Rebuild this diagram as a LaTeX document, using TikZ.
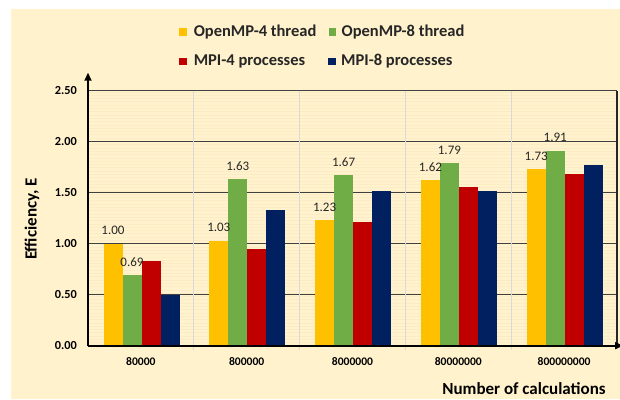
\documentclass[tikz,border=0pt]{standalone}
\usepackage{fontspec}
\setmainfont{Carlito}
\usetikzlibrary{arrows.meta, positioning}

\definecolor{cream}{HTML}{FFF2CC}
\definecolor{stripe}{HTML}{FBECC6}
\definecolor{ompfour}{HTML}{FFC000}
\definecolor{ompeight}{HTML}{70AD47}
\definecolor{mpifour}{HTML}{C00000}
\definecolor{mpieight}{HTML}{002060}

\begin{document}
\begin{tikzpicture}[
    x=1pt, y=-1pt,
    legsq/.style = {rectangle, minimum size=7.5pt, inner sep=0pt},
    legtext/.style = {anchor=west, inner sep=0pt, font=\fontsize{16.5}{20}\selectfont\bfseries, text=black!85},
    ticklabel/.style = {anchor=east, inner sep=0pt, font=\fontsize{12.3}{14}\selectfont\bfseries},
    catlabel/.style = {inner sep=0pt, font=\fontsize{11.6}{13}\selectfont\bfseries},
    vallabel/.style = {anchor=base, inner sep=0pt, font=\fontsize{13}{15}\selectfont, text=black!85},
    axistitle/.style = {inner sep=0pt, font=\fontsize{17}{20}\selectfont\bfseries},
    grid/.style = {draw=black!75, line width=0.9pt},
    sep/.style = {draw=black!15, line width=0.7pt},
    axis/.style = {draw=black, line width=1.7pt, -{Triangle[length=8pt, width=7pt]}}
]
\useasboundingbox (0,0) rectangle (620,399);
\fill[white] (0,0) rectangle (620,399);
\fill[cream] (11,9) rectangle (620,399);

% striped plot area
\foreach \s in {0,...,76}
    \draw[stripe, line width=0.9pt] (89,{92+3.3*\s}) -- (616,{92+3.3*\s});

% gridlines and tick labels
\foreach \v/\t in {0/0.00, 1/0.50, 2/1.00, 3/1.50, 4/2.00, 5/2.50} {
    \pgfmathsetmacro\gy{345.7-51*\v}
    \node[ticklabel] (tick\v) at (77,\gy) {\t};
}
\foreach \v in {1,...,5} {
    \pgfmathsetmacro\gy{345.7-51*\v}
    \draw[grid] (88,\gy) -- (617,\gy);
}

% category separators
\foreach \g in {1,...,4}
    \draw[sep] ({88+105.8*\g},90.7) -- ({88+105.8*\g},350);

% bars with labels on the OpenMP bars
\foreach \g/\a/\b/\c/\d/\cat in {0/1.00/0.69/0.83/0.50/80000,
                                 1/1.03/1.63/0.95/1.33/800000,
                                 2/1.23/1.67/1.21/1.52/8000000,
                                 3/1.62/1.79/1.56/1.52/80000000,
                                 4/1.73/1.91/1.68/1.77/800000000} {
    \pgfmathsetmacro\xa{88+105.8*\g+15.5}
    \pgfmathsetmacro\ya{345.7-102*\a}
    \pgfmathsetmacro\yb{345.7-102*\b}
    \pgfmathsetmacro\yc{345.7-102*\c}
    \pgfmathsetmacro\yd{345.7-102*\d}
    \fill[ompfour] (\xa,345.7) rectangle ({\xa+19},\ya);
    \fill[ompeight] ({\xa+19},345.7) rectangle ({\xa+38},\yb);
    \fill[mpifour] ({\xa+38},345.7) rectangle ({\xa+57},\yc);
    \fill[mpieight] ({\xa+57},345.7) rectangle ({\xa+76},\yd);
    \node[vallabel] (vala\g) at ({\xa+9.5},{\ya-9}) {\a};
    \node[vallabel] (valb\g) at ({\xa+28.5},{\yb-9}) {\b};
    \node[catlabel] (cat\g) at ({88+105.8*\g+52.9},361.7) {\cat};
}

% frame and axes
\coordinate (origin) at (88,345.7);
\coordinate (ytop) at (88,72.7);
\coordinate (xend) at (623,345.7);
\coordinate (frtop) at (617,90.7);
\coordinate (frbot) at (617,345.7);
\draw[black!85, line width=1.4pt] (frtop) -- (frbot);
\draw[axis] (origin) -- (ytop);
\draw[axis] (origin) -- (xend);

% axis titles
\node[axistitle, rotate=90] (ytitle) at (32,219) {Efficiency, E};
\node[axistitle] (xtitle) at (524,389) {Number of calculations};

% legend
\node[legsq, fill=ompfour] (sqa) at (183,32) {};
\node[legtext, right=6.6pt of sqa] (lega) {OpenMP-4 thread};
\node[legsq, fill=ompeight] (sqb) at (332.5,32) {};
\node[legtext, right=5pt of sqb] (legb) {OpenMP-8 thread};
\node[legsq, fill=mpifour] (sqc) at (183,61.3) {};
\node[legtext, right=6.6pt of sqc] (legc) {MPI-4 processes};
\node[legsq, fill=mpieight] (sqd) at (332,61.3) {};
\node[legtext, right=5pt of sqd] (legd) {MPI-8 processes};

\end{tikzpicture}
\end{document}
